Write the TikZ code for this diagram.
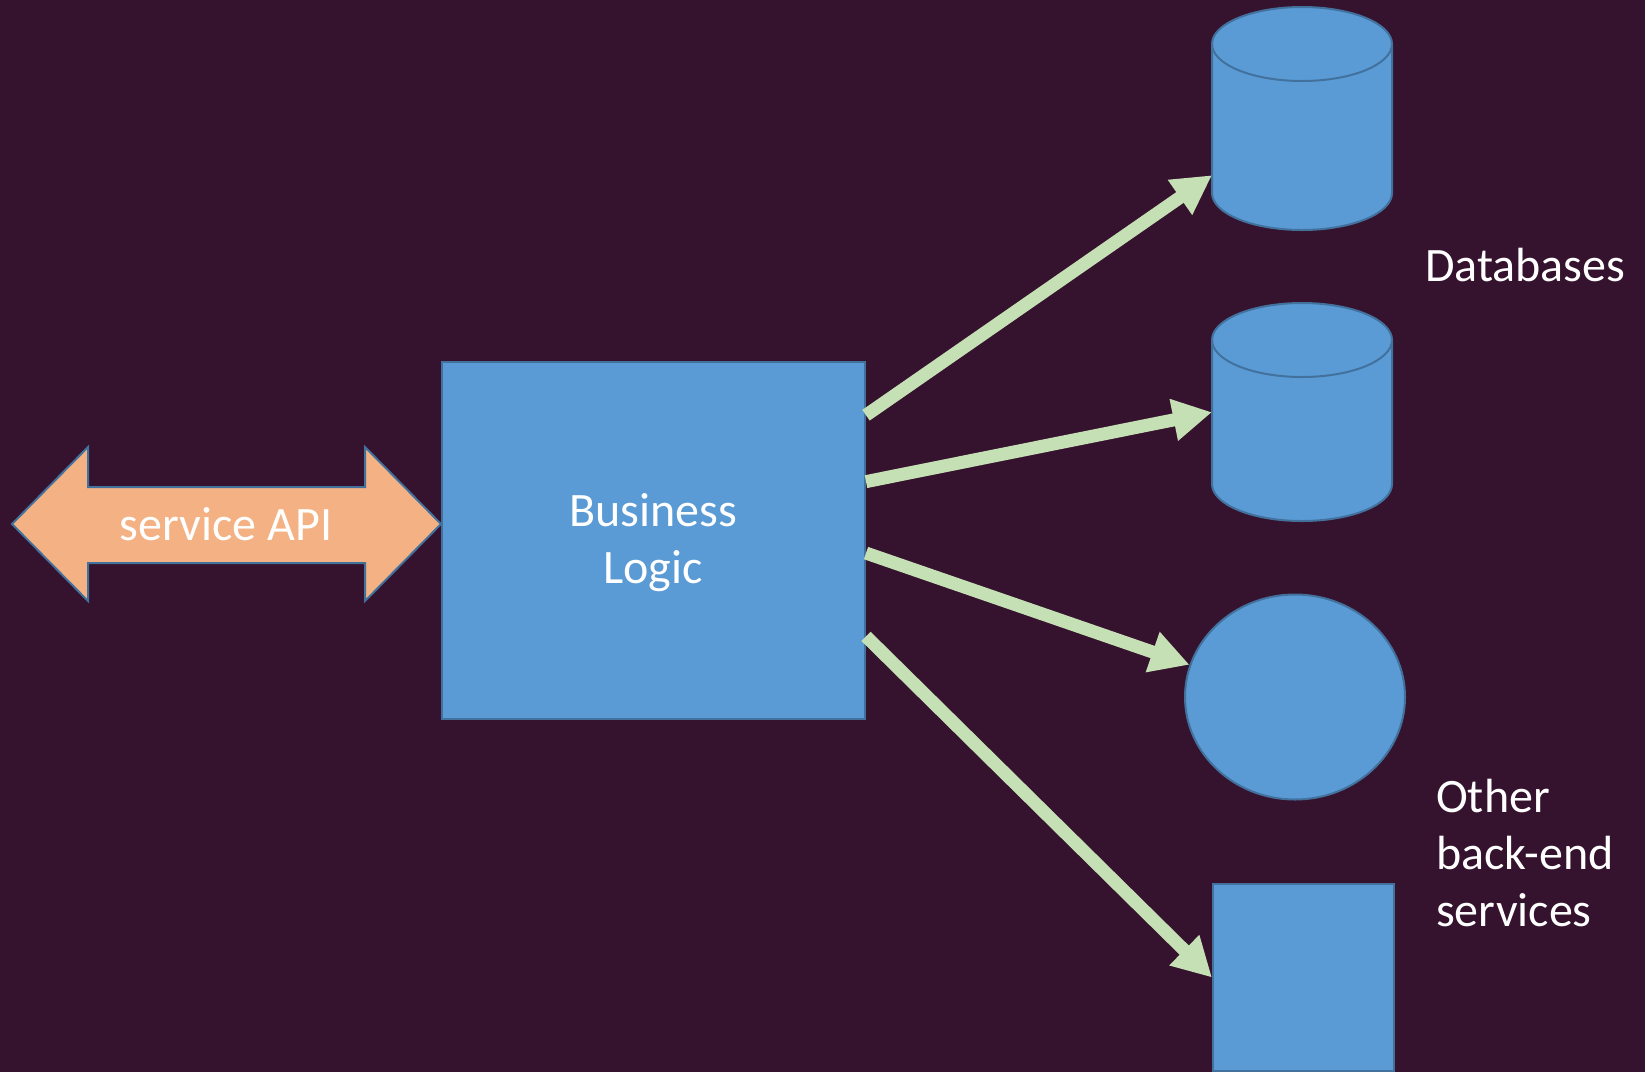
\documentclass[tikz,border=0pt]{standalone}
\usepackage{fontspec}
\setmainfont{Carlito}
\usetikzlibrary{arrows.meta,calc,shapes.geometric}
\definecolor{bg}{HTML}{35122D}
\definecolor{boxblue}{HTML}{5B9BD5}
\definecolor{edgeblue}{HTML}{41719C}
\definecolor{apiorange}{HTML}{F4B183}
\definecolor{flowgreen}{HTML}{C5E0B4}
\begin{document}
\begin{tikzpicture}[x=1pt,y=-1pt,
  shapefill/.style={fill=boxblue,draw=edgeblue,line width=2pt},
  apishape/.style={fill=apiorange,draw=edgeblue,line width=2pt,line join=miter},
  flow/.style={draw=flowgreen,line width=13pt,-{Triangle[length=39pt,width=40pt]}},
  lbl/.style={text=white,font=\fontsize{48}{57}\selectfont,inner sep=0pt}]
\fill[bg] (0,0) rectangle (1645,1072);
\useasboundingbox (0,0) rectangle (1645,1072);

% service API double arrow
\path[apishape] (12,524) -- (88,447) -- (88,487) -- (365,487) -- (365,447)
  -- (441,524) -- (365,601) -- (365,563) -- (88,563) -- (88,601) -- cycle;
\node[lbl, anchor=base] (api) at (226,540) {service API};

% Business logic
\node[shapefill, rectangle, inner sep=0pt, minimum width=423, minimum height=357,
  anchor=north west] (bl) at (441,361) {};
\node[lbl, align=center, anchor=base] (bltext) at (653,583) {Business\\Logic};

% database 1
\node[inner sep=0pt, minimum width=180, minimum height=223, anchor=north west] (db1) at (1212,7) {};
\path[shapefill] (1212,44) -- (1212,193) arc[start angle=180,end angle=0,x radius=90,y radius=37]
  -- (1392,44) arc[start angle=0,end angle=-180,x radius=90,y radius=37] -- cycle;
\draw[edgeblue,line width=2pt] (1212,44) arc[start angle=180,end angle=0,x radius=90,y radius=37];

% database 2
\node[inner sep=0pt, minimum width=180, minimum height=218, anchor=north west] (db2) at (1212,303) {};
\path[shapefill] (1212,340) -- (1212,484) arc[start angle=180,end angle=0,x radius=90,y radius=37]
  -- (1392,340) arc[start angle=0,end angle=-180,x radius=90,y radius=37] -- cycle;
\draw[edgeblue,line width=2pt] (1212,340) arc[start angle=180,end angle=0,x radius=90,y radius=37];

% other services
\node[shapefill, ellipse, inner sep=0pt, minimum width=220, minimum height=205] (svc1) at (1295,697) {};
\node[shapefill, rectangle, inner sep=0pt, minimum width=181, minimum height=187,
  anchor=north west] (svc2) at (1212,883) {};

% labels
\node[lbl, anchor=base west] (dblbl) at (1425,281) {Databases};
\node[lbl, align=left, anchor=base west] (otherlbl) at (1436,926) {Other\\back-end\\services};

% connectors
\draw[flow] ($(bl.north east)!0.151!(bl.south east)$) -- ($(db1.north west)!0.753!(db1.south west)$);
\draw[flow] ($(bl.north east)!0.336!(bl.south east)$) -- (db2.west);
\draw[flow] ($(bl.north east)!0.535!(bl.south east)$) -- (svc1.163);
\draw[flow] ($(bl.north east)!0.767!(bl.south east)$) -- (svc2.west);
\end{tikzpicture}
\end{document}
